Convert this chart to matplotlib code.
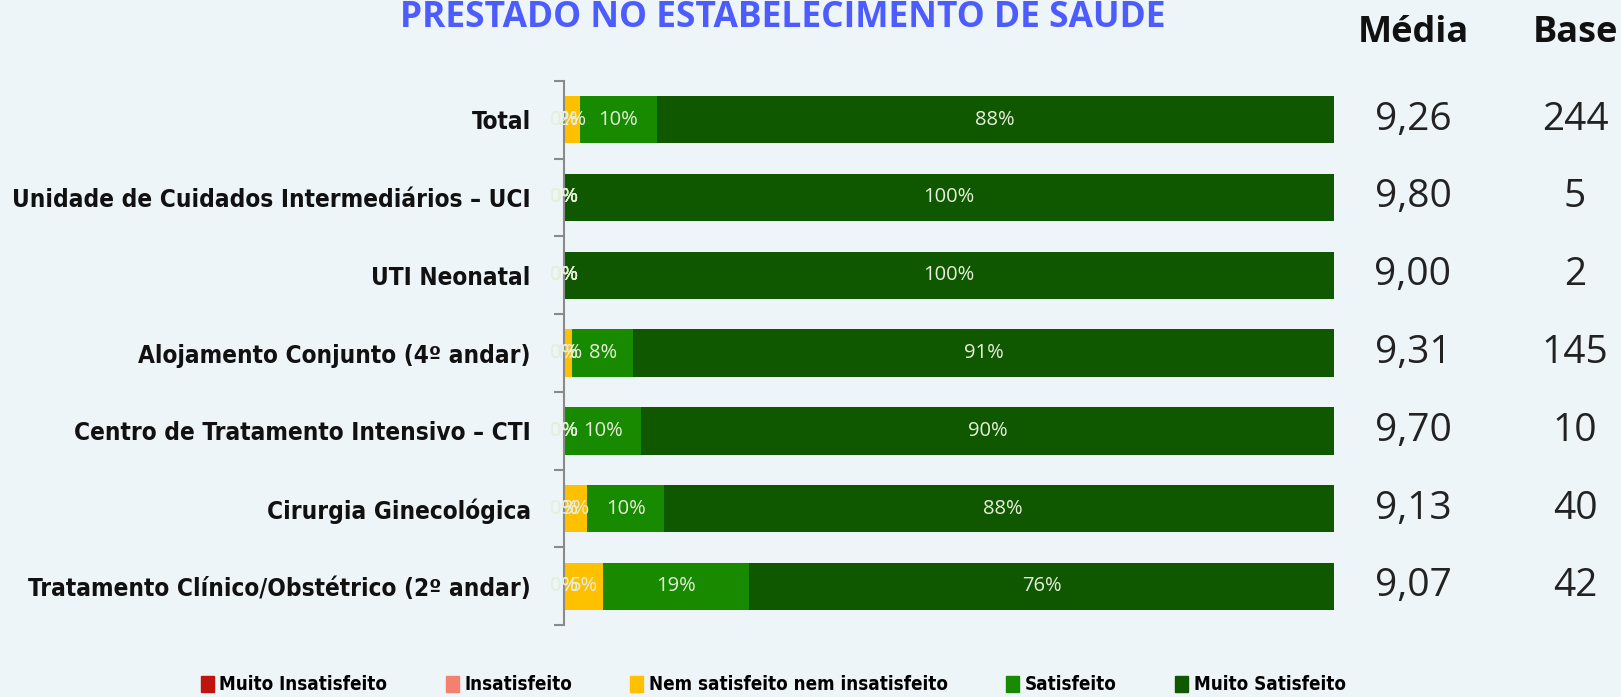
import matplotlib.pyplot as plt
import matplotlib.transforms as mtransforms
from matplotlib.patches import Patch

# dados
categorias = ['Total', 'Unidade de Cuidados Intermediários – UCI', 'UTI Neonatal',
              'Alojamento Conjunto (4º andar)', 'Centro de Tratamento Intensivo – CTI',
              'Cirurgia Ginecológica', 'Tratamento Clínico/Obstétrico (2º andar)']
muito_insatisfeito = [0, 0, 0, 0, 0, 0, 0]
insatisfeito = [0, 0, 0, 0, 0, 0, 0]
nem_nem = [2, 0, 0, 1, 0, 3, 5]
satisfeito = [10, 0, 0, 8, 10, 10, 19]
muito_satisfeito = [88, 100, 100, 91, 90, 88, 76]
media = ['9,26', '9,80', '9,00', '9,31', '9,70', '9,13', '9,07']
base = ['244', '5', '2', '145', '10', '40', '42']

series = [muito_insatisfeito, insatisfeito, nem_nem, satisfeito, muito_satisfeito]
nomes = ['Muito Insatisfeito', 'Insatisfeito', 'Nem satisfeito nem insatisfeito',
         'Satisfeito', 'Muito Satisfeito']
cores = ['#c0150f', '#f4816f', '#ffc000', '#178a00', '#0f5800']

bg = '#eef5f9'
fig = plt.figure(figsize=(16.21, 6.97), dpi=100, facecolor=bg)
ax = fig.add_axes([0.348, 0.103, 0.475, 0.781])
ax.set_facecolor(bg)

y = range(len(categorias))
left = [0] * len(categorias)
for vals, nome, cor in zip(series, nomes, cores):
    ax.barh(y, vals, left=left, height=0.61, color=cor, label=nome)
    for i, v in enumerate(vals):
        ax.text(left[i] + v / 2, i, f'{v}%', ha='center', va='center',
                fontsize=14.5, color='#e6eedc', family='Open Sans')
    left = [a + b for a, b in zip(left, vals)]

ax.set_xlim(0, 100)
ax.set_ylim(len(categorias) - 0.5, -0.5)
ax.set_yticks(list(y))
ax.set_yticklabels(categorias, fontsize=17.5, fontweight='bold', family='DejaVu Sans',
                   fontstretch='condensed', color='#111111')
ax.tick_params(axis='y', which='major', length=0, pad=24)
ax.set_yticks([i + 0.5 for i in range(-1, len(categorias))], minor=True)
ax.tick_params(axis='y', which='minor', length=7, width=1.5, color='#8a8a8a')
ax.set_xticks([])
for s in ['top', 'right', 'bottom']:
    ax.spines[s].set_visible(False)
ax.spines['left'].set_color('#8a8a8a')
ax.spines['left'].set_linewidth(1.5)

# colunas Média e Base
tr = mtransforms.blended_transform_factory(fig.transFigure, ax.transData)
x_media, x_base = 1413 / 1621, 1575 / 1621
fig.text(x_media, 1 - 33 / 697, 'Média', ha='center', va='center', fontsize=26,
         fontweight='bold', family='Open Sans', color='#111111')
fig.text(x_base, 1 - 33 / 697, 'Base', ha='center', va='center', fontsize=26,
         fontweight='bold', family='Open Sans', color='#111111')
for i in y:
    ax.text(x_media, i, media[i], transform=tr, ha='center', va='center',
            fontsize=28, family='Open Sans', color='#222222')
    ax.text(x_base, i, base[i], transform=tr, ha='center', va='center',
            fontsize=28, family='Open Sans', color='#222222')

fig.text(783 / 1621, 1 - 18 / 697, 'PRESTADO NO ESTABELECIMENTO DE SAÚDE', ha='center',
         va='center', fontsize=25.5, fontweight='bold', family='Open Sans', color='#4c5cff')

handles = [Patch(color=c, label=n) for c, n in zip(cores, nomes)]
fig.legend(handles=handles, loc='center', bbox_to_anchor=(0.477, 1 - 685 / 697), ncol=5,
           frameon=False, handlelength=0.7, handleheight=0.9, handletextpad=0.3,
           columnspacing=3.1, prop={'family': 'DejaVu Sans', 'weight': 'bold',
                                    'stretch': 'condensed', 'size': 13.5})

fig.savefig('out.png', dpi=100, facecolor=bg)
